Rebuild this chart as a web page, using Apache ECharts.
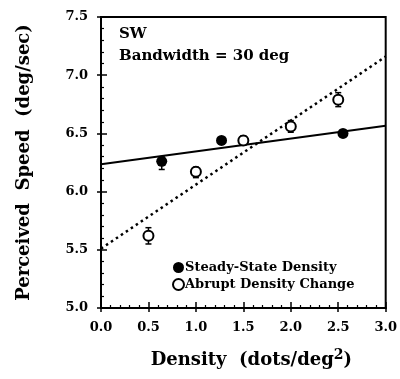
<!DOCTYPE html>
<html>
<head>
<meta charset="utf-8">
<script src="https://cdn.jsdelivr.net/npm/echarts@6/dist/echarts.min.js"></script>
<style>
  html, body { margin: 0; padding: 0; background: #fff; }
  #chart { width: 400px; height: 379px; }
</style>
</head>
<body>
<div id="chart"></div>
<script>
// steady-state density (filled circles)
var steadyX = [0.64, 1.27, 2.55]
var steadyY = [6.26, 6.44, 6.50]
var steadyLo = [6.19, 6.42, 6.47]
var steadyHi = [6.30, 6.46, 6.52]

// abrupt density change (open circles)
var abruptX = [0.5, 1.0, 1.5, 2.0, 2.5]
var abruptY = [5.62, 6.17, 6.44, 6.56, 6.79]
var abruptLo = [5.55, 6.12, 6.40, 6.51, 6.73]
var abruptHi = [5.69, 6.21, 6.48, 6.61, 6.85]

// fitted lines, end points
var steadyFit = [[0, 6.235], [3, 6.565]]
var abruptFit = [[0, 5.51], [3, 7.16]]

var FONT = 'DejaVu Serif'

function pairs(xs, ys) {
  return xs.map(function(x, i) { return [x, ys[i]] })
}
function bars(xs, lo, hi) {
  return xs.map(function(x, i) { return [x, lo[i], hi[i]] })
}
function fmt(v) {
  return v.toFixed(1)
}

function errorBar(params, api) {
  var x = api.value(0)
  var lo = api.coord([x, api.value(1)])
  var hi = api.coord([x, api.value(2)])
  var w = 3
  var style = { stroke: '#000', lineWidth: 1.5 }
  return {
    type: 'group',
    children: [
      { type: 'line', shape: { x1: lo[0], y1: lo[1], x2: hi[0], y2: hi[1] }, style: style },
      { type: 'line', shape: { x1: lo[0] - w, y1: lo[1], x2: lo[0] + w, y2: lo[1] }, style: style },
      { type: 'line', shape: { x1: hi[0] - w, y1: hi[1], x2: hi[0] + w, y2: hi[1] }, style: style }
    ]
  }
}

var chart = echarts.init(document.getElementById('chart'))

var tickStyle = { color: '#000', width: 1.5 }
var baseX = {
  type: 'value', min: 0, max: 3, interval: 0.5,
  splitLine: { show: false }
}
var baseY = {
  type: 'value', min: 5, max: 7.5, interval: 0.5,
  splitLine: { show: false }
}

chart.setOption({
  animation: false,
  backgroundColor: '#fff',
  grid: {
    left: 101, right: 14, top: 17, bottom: 71,
    show: true, borderColor: '#000', borderWidth: 2
  },
  textStyle: { fontFamily: FONT, fontWeight: 'bold', color: '#000' },
  xAxis: [
    Object.assign({}, baseX, {
      axisLine: { show: true, lineStyle: { color: '#000', width: 2 } },
      axisTick: { show: true, inside: true, length: 6, lineStyle: tickStyle },
      minorTick: { show: true, splitNumber: 5, length: 3, lineStyle: { color: '#000', width: 1.2 } },
      axisLabel: {
        show: true, margin: 13, fontFamily: FONT, fontWeight: 'bold', fontSize: 13, color: '#000',
        formatter: fmt
      },
      name: 'Density  (dots/deg{s|2})',
      nameLocation: 'middle', nameGap: 40,
      nameTextStyle: {
        fontFamily: FONT, fontWeight: 'bold', fontSize: 18, color: '#000',
        padding: [0, 0, 0, 16],
        rich: { s: { fontFamily: FONT, fontWeight: 'bold', fontSize: 14, verticalAlign: 'top', padding: [0, 0, 10, 0] } }
      }
    }),
    Object.assign({}, baseX, {
      position: 'bottom',
      axisLine: { show: false },
      axisTick: { show: true, inside: false, length: 4, lineStyle: tickStyle },
      axisLabel: { show: false }
    })
  ],
  yAxis: [
    Object.assign({}, baseY, {
      axisLine: { show: true, lineStyle: { color: '#000', width: 2 } },
      axisTick: { show: true, inside: true, length: 6, lineStyle: tickStyle },
      minorTick: { show: true, splitNumber: 5, length: 3, lineStyle: { color: '#000', width: 1.2 } },
      axisLabel: {
        show: true, margin: 13, fontFamily: FONT, fontWeight: 'bold', fontSize: 13, color: '#000',
        formatter: fmt
      },
      name: 'Perceived  Speed  (deg/sec)',
      nameLocation: 'middle', nameGap: 68,
      nameTextStyle: { fontFamily: FONT, fontWeight: 'bold', fontSize: 18, color: '#000' }
    }),
    Object.assign({}, baseY, {
      position: 'left',
      axisLine: { show: false },
      axisTick: { show: true, inside: false, length: 4, lineStyle: tickStyle },
      axisLabel: { show: false }
    })
  ],
  legend: {
    orient: 'vertical', left: 167, top: 256,
    itemWidth: 11, itemHeight: 11, itemGap: 4,
    data: [
      { name: 'Steady-State Density', icon: 'circle' },
      { name: 'Abrupt Density Change', icon: 'circle' }
    ],
    textStyle: { fontFamily: FONT, fontWeight: 'bold', fontSize: 13, color: '#000', padding: [0, 0, 0, -4] }
  },
  graphic: [
    { type: 'text', left: 119, top: 27, style: { text: 'SW', font: 'bold 15px "DejaVu Serif"', fill: '#000' } },
    { type: 'text', left: 119, top: 49, style: { text: 'Bandwidth = 30 deg', font: 'bold 15px "DejaVu Serif"', fill: '#000' } }
  ],
  series: [
    {
      type: 'line', data: steadyFit, symbol: 'none', silent: true,
      lineStyle: { color: '#000', width: 2 }
    },
    {
      type: 'line', data: abruptFit, symbol: 'none', silent: true,
      lineStyle: { color: '#000', width: 2.5, type: [2.5, 3.5] }
    },
    { type: 'custom', renderItem: errorBar, data: bars(steadyX, steadyLo, steadyHi), z: 3 },
    { type: 'custom', renderItem: errorBar, data: bars(abruptX, abruptLo, abruptHi), z: 3 },
    {
      name: 'Steady-State Density', type: 'scatter', data: pairs(steadyX, steadyY),
      symbolSize: 11, z: 4,
      itemStyle: { color: '#000', opacity: 1 }
    },
    {
      name: 'Abrupt Density Change', type: 'scatter', data: pairs(abruptX, abruptY),
      symbolSize: 10, z: 4,
      itemStyle: { color: '#fff', borderColor: '#000', borderWidth: 2, opacity: 1 }
    }
  ]
})
</script>
</body>
</html>
